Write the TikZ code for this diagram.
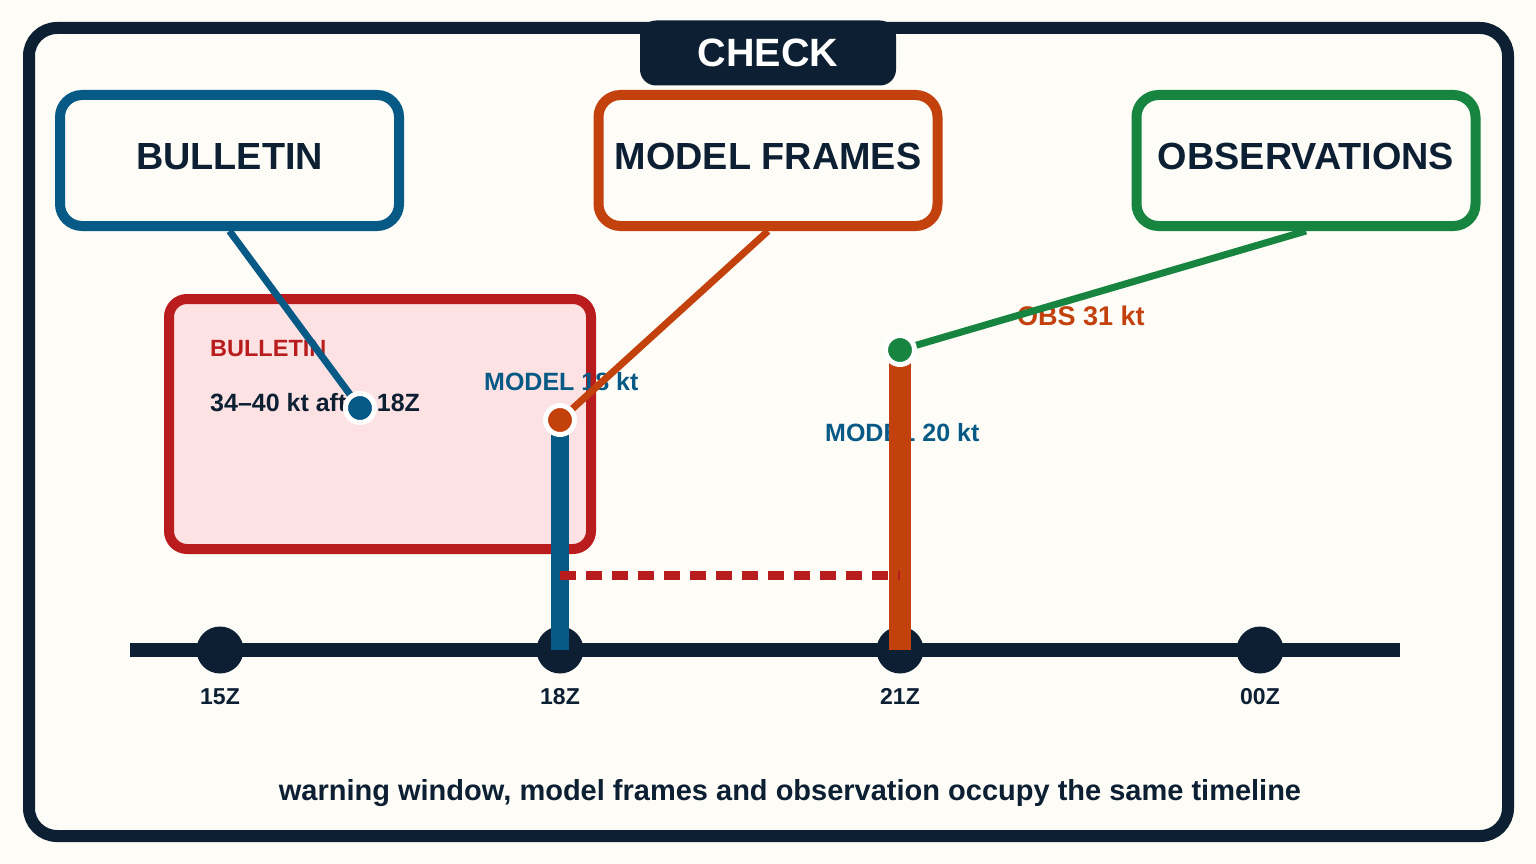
\documentclass[tikz,border=0pt]{standalone}
\usepackage{fontspec}
\setmainfont{Liberation Sans}
\definecolor{navy}{HTML}{0C1F33}
\definecolor{bulblue}{HTML}{075A86}
\definecolor{modorange}{HTML}{C2410C}
\definecolor{obsgreen}{HTML}{178540}
\definecolor{warnred}{HTML}{B91C1C}
\definecolor{warnpink}{HTML}{FDE2E4}
\definecolor{paper}{HTML}{FDFCF7}
\tikzset{
  srcbox/.style={draw=#1, line width=10pt, rounded corners=22pt, fill=paper,
    minimum width=339pt, minimum height=131pt, inner sep=0pt,
    text height=27pt, text depth=10pt, text=navy,
    font=\fontsize{37.8}{41}\selectfont\bfseries},
  dotmark/.style={circle, fill=#1, draw=white, line width=5pt,
    minimum size=29pt, inner sep=0pt},
  tickdot/.style={circle, fill=navy, minimum size=47pt, inner sep=0pt},
  smalltext/.style={anchor=base west, inner sep=0pt, font=\fontsize{25}{28}\selectfont\bfseries},
  ticklabel/.style={anchor=base, text=navy, font=\fontsize{23}{25}\selectfont\bfseries}
}
\begin{document}
\begin{tikzpicture}[x=1pt,y=-1pt]
\useasboundingbox (0,0) rectangle (1536,864);
\fill[paper] (0,0) rectangle (1536,864);

% Frame and title tab
\draw[navy, line width=12pt, rounded corners=28pt] (29,28) rectangle (1508,836);
\node[fill=navy, rounded corners=16pt, minimum width=256pt, minimum height=65pt,
  text height=28pt, text depth=0pt, text=white,
  font=\fontsize{39.5}{42}\selectfont\bfseries] (check) at (768,53) {CHECK};

% Source boxes
\node[srcbox=bulblue] (bulletin) at (229.5,160.5) {BULLETIN};
\node[srcbox=modorange] (frames) at (768,160.5) {MODEL FRAMES};
\node[srcbox=obsgreen] (observations) at (1306,160.5) {OBSERVATIONS};

% Warning window
\draw[warnred, fill=warnpink, line width=10pt, rounded corners=18pt] (169,299) rectangle (591,549);
\node[smalltext, text=warnred, font=\fontsize{23.5}{26}\selectfont\bfseries] (wtitle) at (210,356) {BULLETIN};
\node[smalltext, text=navy] (wrange) at (210,411) {34–40 kt after 18Z};
\node[smalltext, text=bulblue] (m18lab) at (484,390) {MODEL 18 kt};
\node[smalltext, text=bulblue] (m21lab) at (825,441) {MODEL 20 kt};
\node[smalltext, text=modorange, font=\fontsize{27}{30}\selectfont\bfseries] (obslab) at (1017,325) {OBS 31 kt};

% Timeline
\coordinate (tlA) at (130,650);
\coordinate (tlB) at (1400,650);
\draw[navy, line width=14pt] (tlA) -- (tlB);
\foreach \x/\lab in {220/15Z, 560/18Z, 900/21Z, 1260/00Z} {
  \node[tickdot] (t\lab) at (\x,650) {};
  \node[ticklabel] at (\x,704) {\lab};
}

% Bars
\coordinate (pmod) at (560,420);
\coordinate (pobs) at (900,350);
\coordinate (pbul) at (360,408);
\draw[bulblue, line width=18pt] (pmod) -- (t18Z.center);
\draw[modorange, line width=22pt] (pobs) -- (t21Z.center);
\coordinate (gapA) at (560,575);
\coordinate (gapB) at (900,575);
\draw[warnred, line width=9pt, dash pattern=on 16pt off 10pt] (gapA) -- (gapB);

% Connectors
\draw[bulblue, line width=7pt] (bulletin.south) -- (pbul);
\draw[modorange, line width=7pt] (frames.south) -- (pmod);
\draw[obsgreen, line width=7pt] (observations.south) -- (pobs);

% Dots
\node[dotmark=bulblue] (bdot) at (pbul) {};
\node[dotmark=modorange] (mdot) at (pmod) {};
\node[dotmark=obsgreen] (odot) at (pobs) {};

% Caption
\node[anchor=base, text=navy, font=\fontsize{29}{32}\selectfont\bfseries] (caption) at (790,800)
  {warning window, model frames and observation occupy the same timeline};
\end{tikzpicture}
\end{document}
